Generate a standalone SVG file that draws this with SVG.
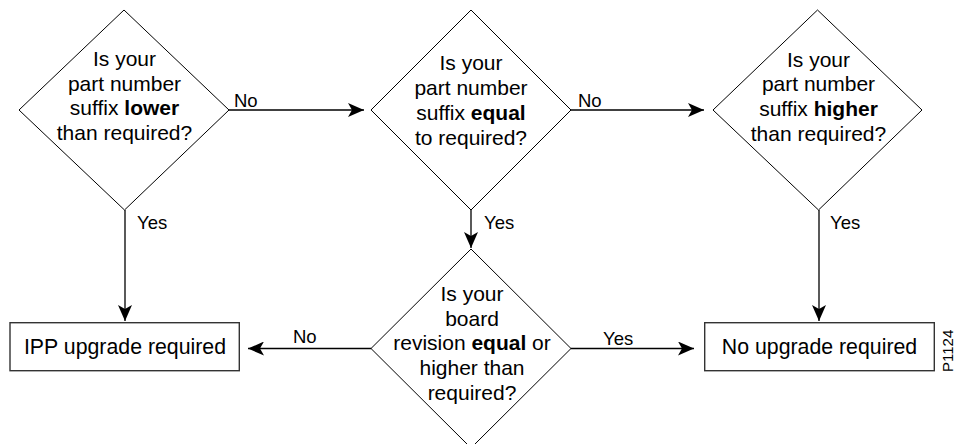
<svg xmlns="http://www.w3.org/2000/svg" width="956" height="444" viewBox="0 0 956 444">
<style>
.shape{fill:#fff;stroke:#000;stroke-width:1}
.box{fill:#fff;stroke:#333;stroke-width:1.4}
.q{font-family:"Liberation Sans",Arial,sans-serif;font-size:21px;text-anchor:middle;fill:#000}
.lbl{font-family:"Liberation Sans",Arial,sans-serif;font-size:18.5px;fill:#000}
.bt{font-family:"Liberation Sans",Arial,sans-serif;font-size:21.3px;text-anchor:middle;fill:#000}
.b{font-weight:bold}
.conn{stroke:#000;stroke-width:1.3;fill:none;marker-end:url(#ah)}
</style>
<defs>
<marker id="ah" markerUnits="userSpaceOnUse" markerWidth="18" markerHeight="14" refX="16" refY="7" orient="auto">
<path d="M0,0 L16,7 L0,14 L4,7 Z" fill="#000"/>
</marker>
</defs>
<rect width="956" height="444" fill="#fff"/>
<g id="connectors">
<line class="conn" x1="229" y1="110" x2="364" y2="110"/>
<line class="conn" x1="571" y1="110" x2="704" y2="110"/>
<line class="conn" x1="125" y1="210" x2="125" y2="321"/>
<line class="conn" x1="471" y1="210" x2="471" y2="248"/>
<line class="conn" x1="819" y1="210" x2="819" y2="321"/>
<line class="conn" x1="371" y1="348.5" x2="248" y2="348.5"/>
<line class="conn" x1="571" y1="348.5" x2="694" y2="348.5"/>
<text class="lbl" x="234" y="107">No</text>
<text class="lbl" x="578" y="107">No</text>
<text class="lbl" x="137" y="229">Yes</text>
<text class="lbl" x="484" y="229">Yes</text>
<text class="lbl" x="830" y="229">Yes</text>
<text class="lbl" x="293" y="343">No</text>
<text class="lbl" x="603" y="345">Yes</text>
</g>
<g id="q1">
<polygon class="shape" points="124,10 229,110 124.5,210 19,110"/>
<text class="q" x="124.5" y="66">Is your</text>
<text class="q" x="124.5" y="90.5">part number</text>
<text class="q" x="124.5" y="115">suffix <tspan class="b">lower</tspan></text>
<text class="q" x="124.5" y="139.5">than required?</text>
</g>
<g id="q2">
<polygon class="shape" points="471,10 571,110 471,210 371,110"/>
<text class="q" x="471" y="70">Is your</text>
<text class="q" x="471" y="95">part number</text>
<text class="q" x="471" y="120">suffix <tspan class="b">equal</tspan></text>
<text class="q" x="471" y="145">to required?</text>
</g>
<g id="q3">
<polygon class="shape" points="817.5,10 922,110 818.5,210 713,110"/>
<text class="q" x="818.5" y="66.5">Is your</text>
<text class="q" x="818.5" y="91">part number</text>
<text class="q" x="818.5" y="115.5">suffix <tspan class="b">higher</tspan></text>
<text class="q" x="818.5" y="140.5">than required?</text>
</g>
<g id="q4">
<polygon class="shape" points="471,249 571,348.5 471,448 371,348.5"/>
<text class="q" x="472" y="301">Is your</text>
<text class="q" x="472" y="325.5">board</text>
<text class="q" x="472" y="350">revision <tspan class="b">equal</tspan> or</text>
<text class="q" x="472" y="375">higher than</text>
<text class="q" x="472" y="400">required?</text>
</g>
<g id="ipp">
<rect class="box" x="10" y="322.7" width="229.3" height="48"/>
<text class="bt" x="125" y="354">IPP upgrade required</text>
</g>
<g id="noupg">
<rect class="box" x="704.7" y="322.7" width="229.6" height="48"/>
<text class="bt" x="819.5" y="354">No upgrade required</text>
</g>
<g id="figid">
<text class="lbl" style="font-size:15px" transform="translate(953,372) rotate(-90)">P1124</text>
</g>
</svg>
